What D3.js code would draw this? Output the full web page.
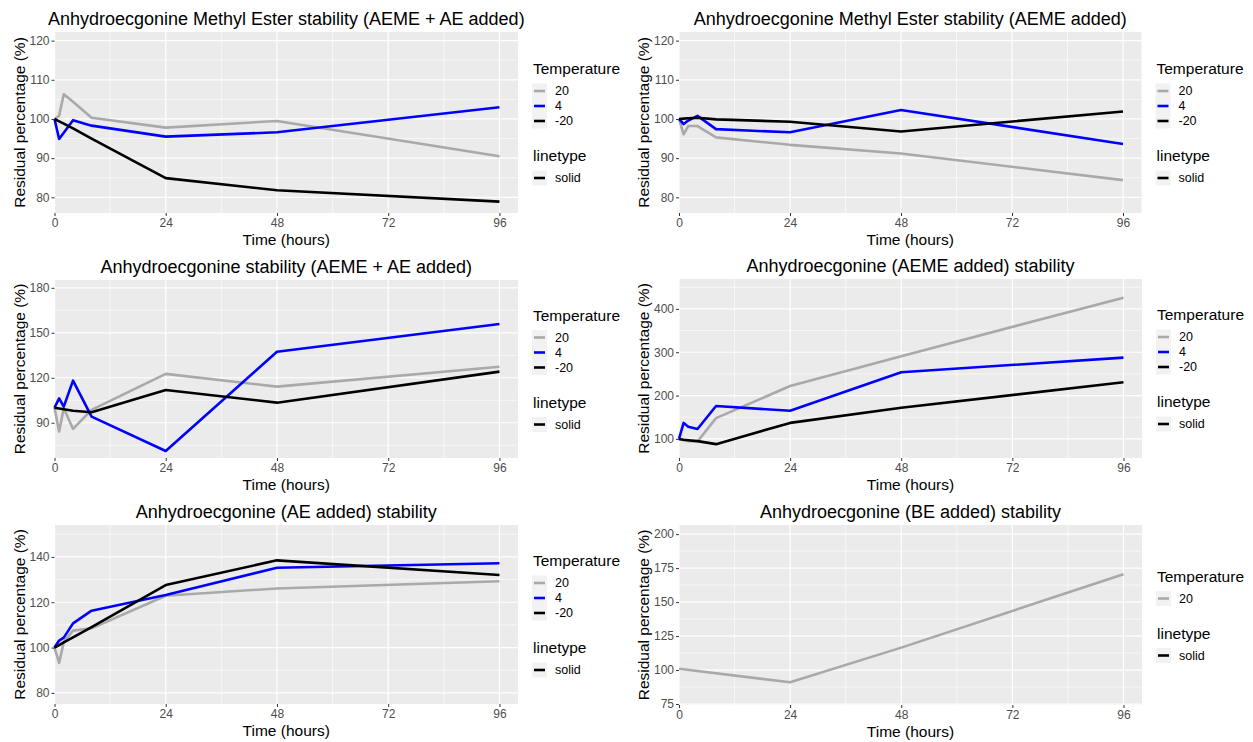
<!DOCTYPE html>
<html>
<head>
<meta charset="utf-8">
<script src="https://cdn.jsdelivr.net/npm/d3@7"></script>
<style>
  body { margin: 0; background: #fff; }
  svg { display: block; font-family: "Liberation Sans", Arial, sans-serif; }
</style>
</head>
<body>
<div id="charts"></div>
<script>
// sampling times (hours)
const hours = [0, 1, 2, 4, 8, 24, 48, 96];
const hoursBE = [0, 24, 48, 96];
const xTicks = [0, 24, 48, 72, 96];

// temperature groups
const temps = ["20", "4", "-20"];
const tempColors = ["#a9a9a9", "#0000ff", "#000000"];

// residual percentages
// AEME stability (AEME + AE added)
const aemeMix20 = [100, 100.8, 106.3, 104.4, 100.3, 97.8, 99.5, 90.5];
const aemeMix4 = [100, 94.9, 96.5, 99.7, 98.3, 95.5, 96.6, 103];
const aemeMixM20 = [100, 99.4, 98.8, 97.6, 95, 84.9, 81.8, 78.9];
// AEME stability (AEME added)
const aeme20 = [100, 96.1, 98.2, 98.2, 95.3, 93.4, 91.2, 84.4];
const aeme4 = [100, 98.7, 99.6, 100.8, 97.4, 96.6, 102.3, 93.6];
const aemeM20 = [100, 100.1, 100.2, 100.3, 99.9, 99.3, 96.8, 101.9];
// AE stability (AEME + AE added)
const aeMix20 = [100, 84.1, 99.7, 85.9, 98.6, 122.6, 114.1, 127.4];
const aeMix4 = [100, 106.3, 100.8, 118.1, 94.1, 71.2, 137.4, 155.9];
const aeMixM20 = [100, 99.5, 99, 98, 97, 111.9, 103.4, 124.1];
// AE (AEME added)
const aeAeme20 = [100, 97, 95, 94, 148, 222, 291, 426];
const aeAeme4 = [100, 137, 128, 123, 176, 165, 254, 287.5];
const aeAemeM20 = [100, 98, 97, 95, 88, 137, 172, 230.7];
// AE (AE added)
const aeAe20 = [100, 93.2, 102.5, 107.5, 108.5, 122.9, 126.1, 129.3];
const aeAe4 = [100, 103.1, 104.4, 110.7, 116.3, 123.2, 135.2, 137.2];
const aeAeM20 = [100, 101.1, 102.3, 104.5, 109, 127.6, 138.5, 132];
// AE (BE added)
const aeBe20 = [101, 91, 116.5, 170.5];

const titles = [
  "Anhydroecgonine Methyl Ester stability (AEME + AE added)",
  "Anhydroecgonine Methyl Ester stability (AEME added)",
  "Anhydroecgonine stability (AEME + AE added)",
  "Anhydroecgonine (AEME added) stability",
  "Anhydroecgonine (AE added) stability",
  "Anhydroecgonine (BE added) stability"
];
const yTicks = [
  [80, 90, 100, 110, 120],
  [80, 90, 100, 110, 120],
  [90, 120, 150, 180],
  [100, 200, 300, 400],
  [80, 100, 120, 140],
  [75, 100, 125, 150, 175, 200]
];
const yDomains = [
  [76.0, 122.2],
  [76.0, 122.2],
  [66.5, 185.2],
  [56, 469],
  [75.1, 154.1],
  [74.3, 206.7]
];

// build the panel table from the arrays above
const panels = [
  { times: hours, series: [aemeMix20, aemeMix4, aemeMixM20] },
  { times: hours, series: [aeme20, aeme4, aemeM20] },
  { times: hours, series: [aeMix20, aeMix4, aeMixM20] },
  { times: hours, series: [aeAeme20, aeAeme4, aeAemeM20] },
  { times: hours, series: [aeAe20, aeAe4, aeAeM20] },
  { times: hoursBE, series: [aeBe20] }
];

// plot box of each panel [left, top, right, bottom]
const boxes = [
  [54.5, 32, 518, 213],
  [679, 32, 1141.5, 213],
  [54.5, 280, 518, 458],
  [679, 279, 1142, 458],
  [54.5, 525, 518, 704],
  [679, 525, 1142, 705]
];

let w = 1253;
let h = 742;
let viz = d3.select("#charts").append("svg")
  .attr("width", w)
  .attr("height", h);

panels.forEach(function (p, k) {
  let b = boxes[k];
  let x = d3.scaleLinear().domain([0, 100]).range([b[0], b[2]]);
  let y = d3.scaleLinear().domain(yDomains[k]).range([b[3], b[1]]);
  let g = viz.append("g");

  g.append("rect")
    .attr("x", b[0]).attr("y", b[1])
    .attr("width", b[2] - b[0]).attr("height", b[3] - b[1])
    .attr("fill", "#ebebeb");

  // minor grid: midpoints between major ticks
  let yt = yTicks[k];
  let step = yt[1] - yt[0];
  let yMinor = [];
  for (let v = yt[0] - step / 2; v <= yDomains[k][1]; v += step) {
    if (v >= yDomains[k][0]) yMinor.push(v);
  }
  let xMinor = [12, 36, 60, 84];
  g.selectAll(".ymin").data(yMinor).enter().append("line")
    .attr("x1", b[0]).attr("x2", b[2])
    .attr("y1", d => y(d)).attr("y2", d => y(d))
    .attr("stroke", "#fff").attr("stroke-width", 0.6);
  g.selectAll(".xmin").data(xMinor).enter().append("line")
    .attr("y1", b[1]).attr("y2", b[3])
    .attr("x1", d => x(d)).attr("x2", d => x(d))
    .attr("stroke", "#fff").attr("stroke-width", 0.6);
  g.selectAll(".ymaj").data(yt).enter().append("line")
    .attr("x1", b[0]).attr("x2", b[2])
    .attr("y1", d => y(d)).attr("y2", d => y(d))
    .attr("stroke", "#fff").attr("stroke-width", 1.2);
  g.selectAll(".xmaj").data(xTicks).enter().append("line")
    .attr("y1", b[1]).attr("y2", b[3])
    .attr("x1", d => x(d)).attr("x2", d => x(d))
    .attr("stroke", "#fff").attr("stroke-width", 1.2);

  // lines
  let line = d3.line()
    .x((d, i) => x(p.times[i]))
    .y(d => y(d));
  p.series.forEach(function (s, j) {
    g.append("path")
      .datum(s)
      .attr("d", line)
      .attr("fill", "none")
      .attr("stroke", tempColors[j])
      .attr("stroke-width", 2.6)
      .attr("stroke-linejoin", "round");
  });

  // axes
  let xAxisGroup = g.append("g")
    .attr("transform", "translate(0," + b[3] + ")")
    .call(d3.axisBottom(x).tickValues(xTicks).tickSize(3).tickPadding(2));
  let yAxisGroup = g.append("g")
    .attr("transform", "translate(" + b[0] + ",0)")
    .call(d3.axisLeft(y).tickValues(yt).tickSize(3).tickPadding(2));
  [xAxisGroup, yAxisGroup].forEach(function (a) {
    a.select(".domain").remove();
    a.selectAll("line").attr("stroke", "#333");
    a.selectAll("text")
      .attr("fill", "#4d4d4d")
      .attr("font-size", 12)
      .style("font-family", "Liberation Sans, Arial, sans-serif");
  });

  let cx = (b[0] + b[2]) / 2;
  let cy = (b[1] + b[3]) / 2;
  g.append("text")
    .attr("x", cx).attr("y", b[1] - 7.5)
    .attr("text-anchor", "middle")
    .attr("font-size", 18)
    .text(titles[k]);
  g.append("text")
    .attr("x", cx).attr("y", b[3] + 31.5)
    .attr("text-anchor", "middle")
    .attr("font-size", 15.5)
    .text("Time (hours)");
  g.append("text")
    .attr("transform", "translate(" + (b[0] - 30) + "," + cy + ") rotate(-90)")
    .attr("text-anchor", "middle")
    .attr("font-size", 15.5)
    .text("Residual percentage (%)");

  // legend
  let n = p.series.length;
  let lh = 11 + 17 + 15 * (n - 1) + 40 + 17 + 7;
  let lx = b[2] + 15;
  let ty = cy - lh / 2 + 11 + 1.5;
  let lg = g.append("g");
  lg.append("text").attr("x", lx).attr("y", ty)
    .attr("font-size", 15.5).text("Temperature");
  lg.append("rect")
    .attr("x", lx - 1).attr("y", ty + 17 - 7.5)
    .attr("width", 15).attr("height", 15 * n)
    .attr("fill", "#f2f2f2");
  for (let i = 0; i < n; i++) {
    let ky = ty + 17 + 15 * i;
    lg.append("line")
      .attr("x1", lx + 1).attr("x2", lx + 12)
      .attr("y1", ky).attr("y2", ky)
      .attr("stroke", tempColors[i]).attr("stroke-width", 2.6);
    lg.append("text").attr("x", lx + 22).attr("y", ky)
      .attr("dy", "0.35em")
      .attr("font-size", 12.5).text(temps[i]);
  }
  let ly = ty + 17 + 15 * (n - 1) + 40;
  lg.append("text").attr("x", lx).attr("y", ly)
    .attr("font-size", 15.5).text("linetype");
  lg.append("rect")
    .attr("x", lx - 1).attr("y", ly + 17 - 7.5)
    .attr("width", 15).attr("height", 15)
    .attr("fill", "#f2f2f2");
  lg.append("line")
    .attr("x1", lx + 1).attr("x2", lx + 12)
    .attr("y1", ly + 17).attr("y2", ly + 17)
    .attr("stroke", "#000").attr("stroke-width", 2.6);
  lg.append("text").attr("x", lx + 22).attr("y", ly + 17)
    .attr("dy", "0.35em")
    .attr("font-size", 12.5).text("solid");
});
</script>
</body>
</html>
